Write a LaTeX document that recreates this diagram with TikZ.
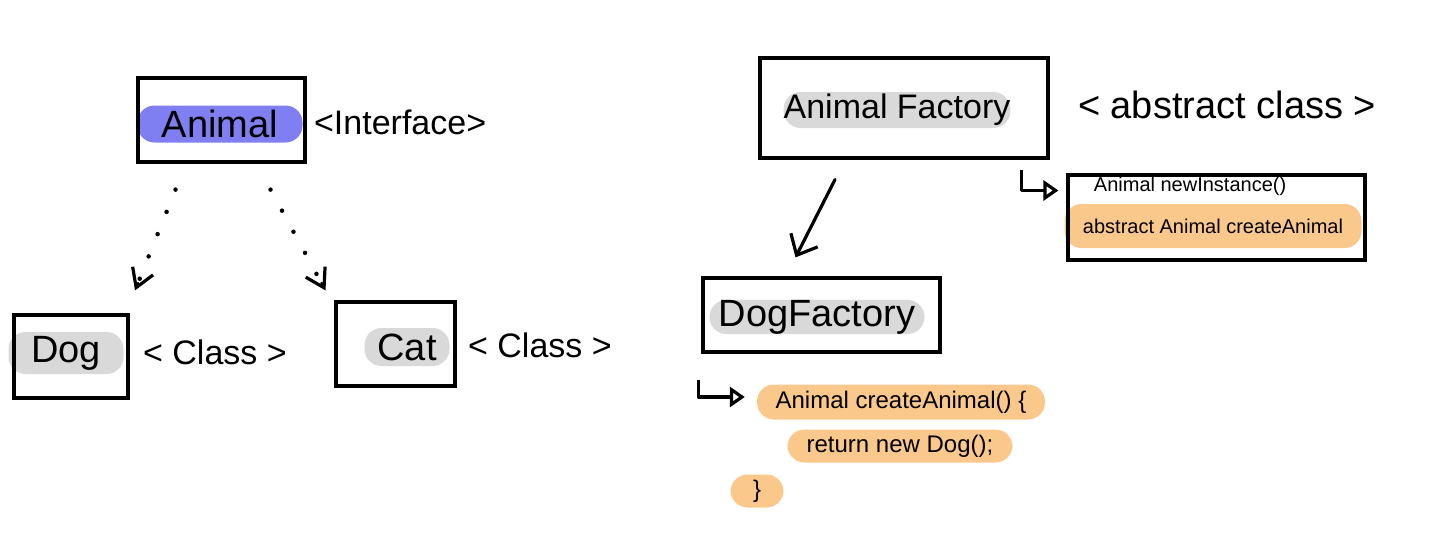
\documentclass[tikz,border=0pt]{standalone}
\usepackage{fontspec}
\setmainfont{Liberation Sans}
\usetikzlibrary{arrows.meta,calc}

\definecolor{hlblue}{HTML}{7F7FF2}
\definecolor{hlgray}{HTML}{D9D9D9}
\definecolor{hlorange}{HTML}{FBC88C}

\begin{document}
\begin{tikzpicture}[x=1pt,y=-1pt,
                    umlbox/.style={draw,line width=3.2pt,inner sep=0pt},
                    marker/.style={fill=#1,rounded corners=17pt,inner sep=0pt},
                    bigtext/.style={font=\fontsize{38}{40}\selectfont},
                    midtext/.style={font=\fontsize{34}{36}\selectfont},
                    codetext/.style={font=\fontsize{24}{26}\selectfont},
                    smalltext/.style={font=\fontsize{20}{22}\selectfont},
                    link/.style={line width=3.2pt,line cap=round,line join=round,-{Straight Barb[length=17pt,width=30pt,line width=3.2pt]}},
                    dotlink/.style={link,-{Straight Barb[length=18pt,width=22pt,line width=3.2pt]}},
                    dotline/.style={line width=4.5pt,line cap=round,dash pattern=on 0pt off 24pt},
                    hook/.style={line width=3.2pt,line join=round,-{Triangle[open,length=15pt,width=20pt,line width=3.2pt]}}
]
\useasboundingbox (0,0) rectangle (1440,552);

% Draw the interface and its classes
\node [marker=hlblue, bigtext, minimum width=165, minimum height=37] at (220,124) (animal) {Animal};
\node [umlbox, minimum width=167, minimum height=84] at (221.5,120) (animalbox) {};
\node [midtext, anchor=west] at ($(animalbox.east)+(4,2)$) (iface) {<Interface>};

\node [marker=hlgray, bigtext, minimum width=115, minimum height=42] at (66,353) (dog) {Dog};
\node [umlbox, minimum width=114, minimum height=83] at (71,356.5) (dogbox) {};
\node [midtext, anchor=west] at ($(dogbox.east)+(10,-4)$) (dogkind) {< Class >};

\node [marker=hlgray, bigtext, minimum width=85, minimum height=38] at (407,347) (cat) {Cat};
\node [umlbox, minimum width=119, minimum height=84] at (395.5,344) (catbox) {};
\node [midtext, anchor=west] at ($(catbox.east)+(8,1)$) (catkind) {< Class >};

% dotted realisation lines, solid tips
\coordinate (dogfoot) at ([shift={(-46,26)}]animalbox.south);
\coordinate (catfoot) at ([shift={(49,26)}]animalbox.south);
\coordinate (dogtip) at ([shift={(64,-23)}]dogbox.north);
\coordinate (cattip) at ([shift={(-70,-10)}]catbox.north);
\draw [dotline] (dogfoot) -- (dogtip);
\draw [dotline] (catfoot) -- (cattip);
\draw [dotlink] ($(dogfoot)!0.93!(dogtip)$) -- (dogtip);
\draw [dotlink] ($(catfoot)!0.93!(cattip)$) -- (cattip);

% Draw the factories
\node [marker=hlgray, midtext, minimum width=225, minimum height=36] at (897,110) (animfac) {Animal Factory};
\node [umlbox, minimum width=288, minimum height=100] at (904,108) (animfacbox) {};
\node [bigtext, anchor=west] at ($(animfacbox.east)+(25,-3)$) (abskind) {< abstract class >};

\node [marker=hlorange, smalltext, minimum width=297, minimum height=44] at (1213,226) (create) {abstract Animal createAnimal};
\node [umlbox, minimum width=297, minimum height=85] at (1216.5,217.5) (methodbox) {};
\node [smalltext, anchor=west] at ($(methodbox.north west)+(24,13)$) (newinst) {Animal newInstance()};
\draw [hook] ([shift={(-28,10)}]animfacbox.south east) |- ([shift={(-8,-27)}]methodbox.west);

\node [marker=hlgray, bigtext, minimum width=215, minimum height=34] at (817,317) (dogfac) {DogFactory};
\node [umlbox, minimum width=237, minimum height=74] at (821.5,315) (dogfacbox) {};
\draw [link] ([shift={(-69,20)}]animfacbox.south) -- ([shift={(-26,-19)}]dogfacbox.north);

% Draw the code of createAnimal
\node [marker=hlorange, codetext, minimum width=288, minimum height=35] at (901,402) (line1) {Animal createAnimal() \{};
\node [marker=hlorange, codetext, minimum width=225, minimum height=33] at (900,446) (line2) {return new Dog();};
\node [marker=hlorange, codetext, minimum width=53, minimum height=33] at (757,491) (line3) {\}};
\draw [hook] ([shift={(-3,26)}]dogfacbox.south west) |- ([shift={(-12,-5)}]line1.west);

\end{tikzpicture}
\end{document}
